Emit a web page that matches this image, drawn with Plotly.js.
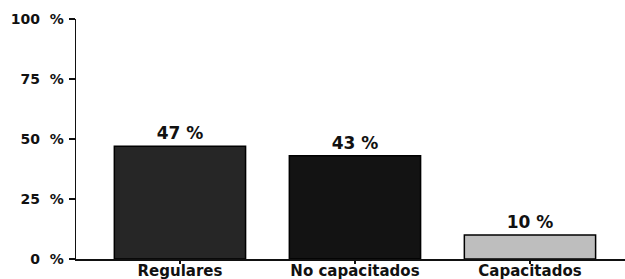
<!DOCTYPE html>
<html><head><meta charset="utf-8">
<script src="https://cdn.plot.ly/plotly-3.0.1.min.js"></script>
<style>html,body{margin:0;padding:0;background:#fff}</style>
</head><body>
<div id="chart" style="width:625px;height:279px"></div>
<script>
const categories = ["Regulares", "No capacitados", "Capacitados"];
const values = [47, 43, 10];
const barColors = ["#262626", "#131313", "#bebebe"];
const yTickVals = [0, 25, 50, 75, 100];
const yTickText = ["0\u00a0\u00a0%", "25\u00a0\u00a0%", "50\u00a0\u00a0%", "75\u00a0\u00a0%", "100\u00a0\u00a0%"];

const FONT = "DejaVu Sans, Arial, sans-serif";
const trace = {
  type: "bar",
  x: categories,
  y: values,
  width: 0.75,
  marker: {color: barColors, line: {color: "#000", width: 1.5}},
  text: values.map(v => v + " %"),
  textposition: "outside",
  cliponaxis: false,
  textfont: {family: FONT, size: 17, color: "#111", weight: "bold"},
  hoverinfo: "none"
};
const layout = {
  width: 625, height: 279,
  margin: {l: 76, r: 0, t: 19, b: 20},
  paper_bgcolor: "#fff", plot_bgcolor: "#fff",
  showlegend: false,
  xaxis: {
    type: "category", range: [-0.594, 2.543],
    showline: true, linecolor: "#111", linewidth: 1.5,
    ticks: "outside", ticklen: 3, tickcolor: "#111", tickwidth: 1.2,
    ticklabelstandoff: -6,
    tickfont: {family: FONT, size: 15, color: "#111", weight: "bold"},
    showgrid: false, zeroline: false
  },
  yaxis: {
    range: [0, 100], tickvals: yTickVals, ticktext: yTickText,
    showline: true, linecolor: "#111", linewidth: 1.5,
    ticks: "outside", ticklen: 6, tickcolor: "#111", tickwidth: 1.2,
    ticklabelstandoff: 2,
    tickfont: {family: FONT, size: 14, color: "#111", weight: "bold"},
    showgrid: false, zeroline: false
  },
  bargap: 0.25
};
Plotly.newPlot("chart", [trace], layout, {staticPlot: true, displayModeBar: false});
</script>
</body></html>
